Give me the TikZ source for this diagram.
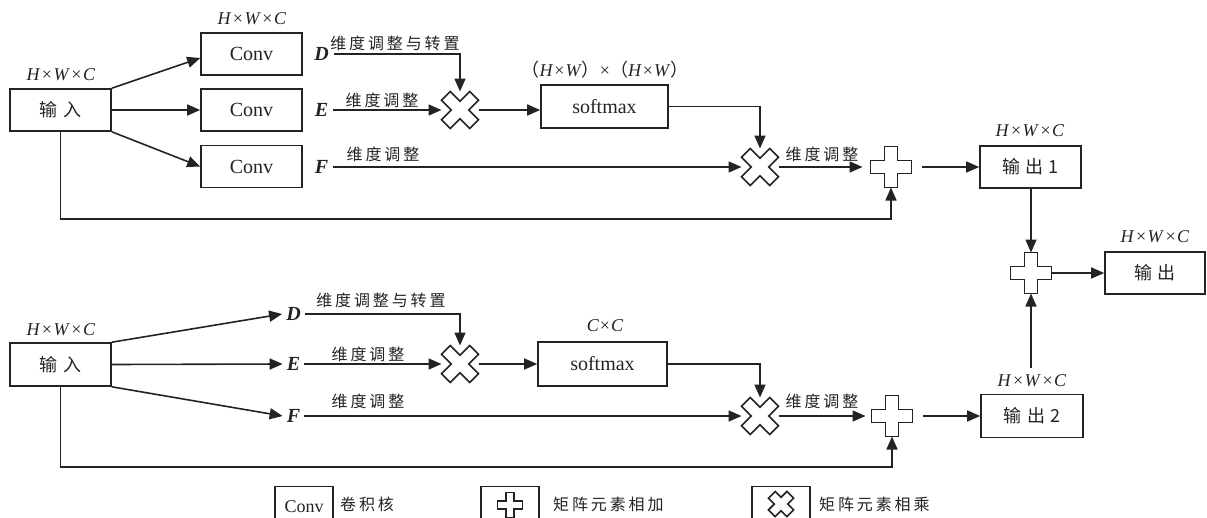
\documentclass[tikz,border=0pt]{standalone}
\usepackage{fontspec}
\setmainfont{Liberation Serif}
\newfontfamily\cjk[LetterSpace=18]{Noto Sans CJK SC}
\newfontfamily\cjkbox[LetterSpace=28]{Noto Sans CJK SC}
\newfontfamily\cjkplain{Noto Sans CJK SC}
\usetikzlibrary{arrows.meta,calc}
\definecolor{ink}{RGB}{35,35,35}
\newcommand\hwc{\textit{H}\kern1.5pt×\kern1.5pt\textit{W}\kern1.5pt×\kern1.5pt\textit{C}}
\newcommand\crossop[4]{%
  \draw[opline,shift={(#1)},rotate=#4] (-#3,-#2) -- (#3,-#2) -- (#3,-#3) -- (#2,-#3) -- (#2,#3) -- (#3,#3) -- (#3,#2) -- (-#3,#2) -- (-#3,#3) -- (-#2,#3) -- (-#2,-#3) -- (-#3,-#3) -- cycle;}
\tikzset{
  box/.style={draw, line width=1.6pt, minimum width=101pt, minimum height=42pt, inner sep=0pt, font=\cjkbox\fontsize{18}{18}\selectfont},
  latbox/.style={box, font=\fontsize{20}{20}\selectfont},
  lab/.style={font=\cjk\fontsize{16}{16}\selectfont, inner sep=0pt},
  dim/.style={font=\fontsize{18}{18}\selectfont, inner sep=0pt},
  dfe/.style={font=\bfseries\itshape\fontsize{20}{20}\selectfont, inner ysep=0pt, inner xsep=5pt},
  arr/.style={-{Triangle[length=13pt,width=11pt]}, line width=1.6pt},
  opnode/.style={minimum size=37pt, inner sep=0pt, outer sep=0pt},
  plusnode/.style={minimum size=41pt, inner sep=0pt, outer sep=0pt},
  opline/.style={line width=1.6pt, line join=miter},
}
\begin{document}
\begin{tikzpicture}[x=1pt,y=-1pt,color=ink]
\useasboundingbox (0,0) rectangle (1207,517);
\clip (0,0) rectangle (1207,517);
% ---------- top branch ----------
\node[box] (in1) at (60.5,110) {输入};
\node[dim] (in1l) at (61,75) {\hwc};
\node[latbox] (c1) at (251.5,54) {Conv};
\node[latbox] (c2) at (251.5,110) {Conv};
\node[latbox] (c3) at (251.5,166.5) {Conv};
\node[dim] (c1l) at (252,18.5) {\hwc};
\draw[arr] (in1.north east) -- ([yshift=-4pt]c1.west);
\draw[arr] (in1.east) -- (c2.west);
\draw[arr] (in1.south east) -- (c3.west);
\node[dfe] (d1) at (321.5,54) {D};
\node[dfe] (e1) at (321.5,110) {E};
\node[dfe] (f1) at (321.5,167) {F};
\node[opnode] (t1) at (460,110) {};
\crossop{t1.center}{20}{6.2}{45}
\node[latbox, minimum width=127pt, minimum height=43pt] (s1) at (604.5,106.5) {softmax};
\node[dim] (s1l) at (605,70) {{\cjkplain （}\textit{H}\kern1pt×\kern1pt\textit{W}{\cjkplain ）}×{\cjkplain （}\textit{H}\kern1pt×\kern1pt\textit{W}{\cjkplain ）}};
\node[opnode] (t2) at (760,167) {};
\crossop{t2.center}{20}{6.2}{45}
\node[plusnode] (p1) at (891,167) {};
\crossop{p1.center}{20.5}{6.5}{0}
\node[box] (o1) at (1030.5,167) {输出1};
\node[dim] (o1l) at (1030,131) {\hwc};
\draw[arr] (d1.east) -| (t1.north);
\node[lab] (d1t) at (395,43) {维度调整与转置};
\draw[arr] (e1.east) -- (t1.west);
\node[lab] (e1t) at (382,100) {维度调整};
\draw[arr] (t1.east) -- (t1.east -| s1.west);
\draw[arr] (s1.east) -| (t2.north);
\draw[arr] (f1.east) -- (t2.west);
\node[lab] (f1t) at (383,154) {维度调整};
\draw[arr, shorten >=8pt] (t2.east) -- (p1.west);
\node[lab] (t2t) at (822,154) {维度调整};
\draw[arr, shorten <=10pt] (p1.east) -- (o1.west);
\coordinate (lp1) at (891,219);
\draw[arr] (in1.south) |- (lp1) -- (p1.south);
% ---------- output ----------
\node[plusnode] (p3) at (1031,273) {};
\crossop{p3.center}{20.5}{6.5}{0}
\node[box, minimum width=100pt] (o) at (1155,273) {输出};
\node[dim] (ol) at (1155,237) {\hwc};
\draw[arr] (o1.south -| p3.north) -- (p3.north);
\draw[arr] (p3.east) -- (o.west);
% ---------- bottom branch ----------
\node[box, minimum height=43pt] (in2) at (60.5,364.5) {输入};
\node[dim] (in2l) at (61,330) {\hwc};
\node[dfe, inner xsep=4pt] (d2) at (293.5,314) {D};
\node[dfe, inner xsep=4pt] (e2) at (293.5,364) {E};
\node[dfe, inner xsep=4pt] (f2) at (293.5,416) {F};
\draw[arr] (in2.north east) -- (d2.west);
\draw[arr] (in2.east) -- (e2.west);
\draw[arr] (in2.south east) -- (f2.west);
\node[opnode] (t3) at (460,364) {};
\crossop{t3.center}{20}{6.2}{45}
\node[latbox, minimum width=129pt, minimum height=44pt] (s2) at (602.5,364) {softmax};
\node[dim] (s2l) at (605,326) {\textit{C}\kern1pt×\kern1pt\textit{C}};
\node[opnode] (t4) at (760,416) {};
\crossop{t4.center}{20}{6.2}{45}
\node[plusnode] (p2) at (892,416) {};
\crossop{p2.center}{20.5}{6.5}{0}
\node[box, minimum width=102pt, minimum height=43pt] (o2) at (1032,416) {输出2};
\node[dim] (o2l) at (1032,381) {\hwc};
\draw[arr] (d2.east) -| (t3.north);
\node[lab] (d2t) at (381,300) {维度调整与转置};
\draw[arr] (e2.east) -- (t3.west);
\node[lab] (e2t) at (368,354) {维度调整};
\draw[arr] (t3.east) -- (s2.west);
\draw[arr] (s2.east) -| (t4.north);
\draw[arr] (f2.east) -- (t4.west);
\node[lab] (f2t) at (368,401) {维度调整};
\draw[arr, shorten >=6pt] (t4.east) -- (p2.west);
\node[lab] (t4t) at (822,401) {维度调整};
\draw[arr, shorten <=10pt] (p2.east) -- (o2.west);
\coordinate (lp2) at (892,467);
\draw[arr] (in2.south) |- (lp2) -- (p2.south);
\draw[arr] ([yshift=7pt]p3.south |- o2l.north) -- (p3.south);
% ---------- legend ----------
\node[box, minimum width=58pt, minimum height=40pt, font=\fontsize{18}{18}\selectfont] (lc) at (304,506.5) {Conv};
\node[lab, anchor=west] (lct) at (340,504) {卷积核};
\node[box, minimum width=58pt, minimum height=40pt] (lpb) at (510,506.5) {};
\crossop{510,505}{12.5}{4}{0}
\node[lab, anchor=west] (lpt) at (553,504) {矩阵元素相加};
\node[box, minimum width=58pt, minimum height=40pt] (ltb) at (781,506.5) {};
\crossop{781,504}{13}{4.7}{45}
\node[lab, anchor=west] (ltt) at (819,504) {矩阵元素相乘};
\end{tikzpicture}
\end{document}
